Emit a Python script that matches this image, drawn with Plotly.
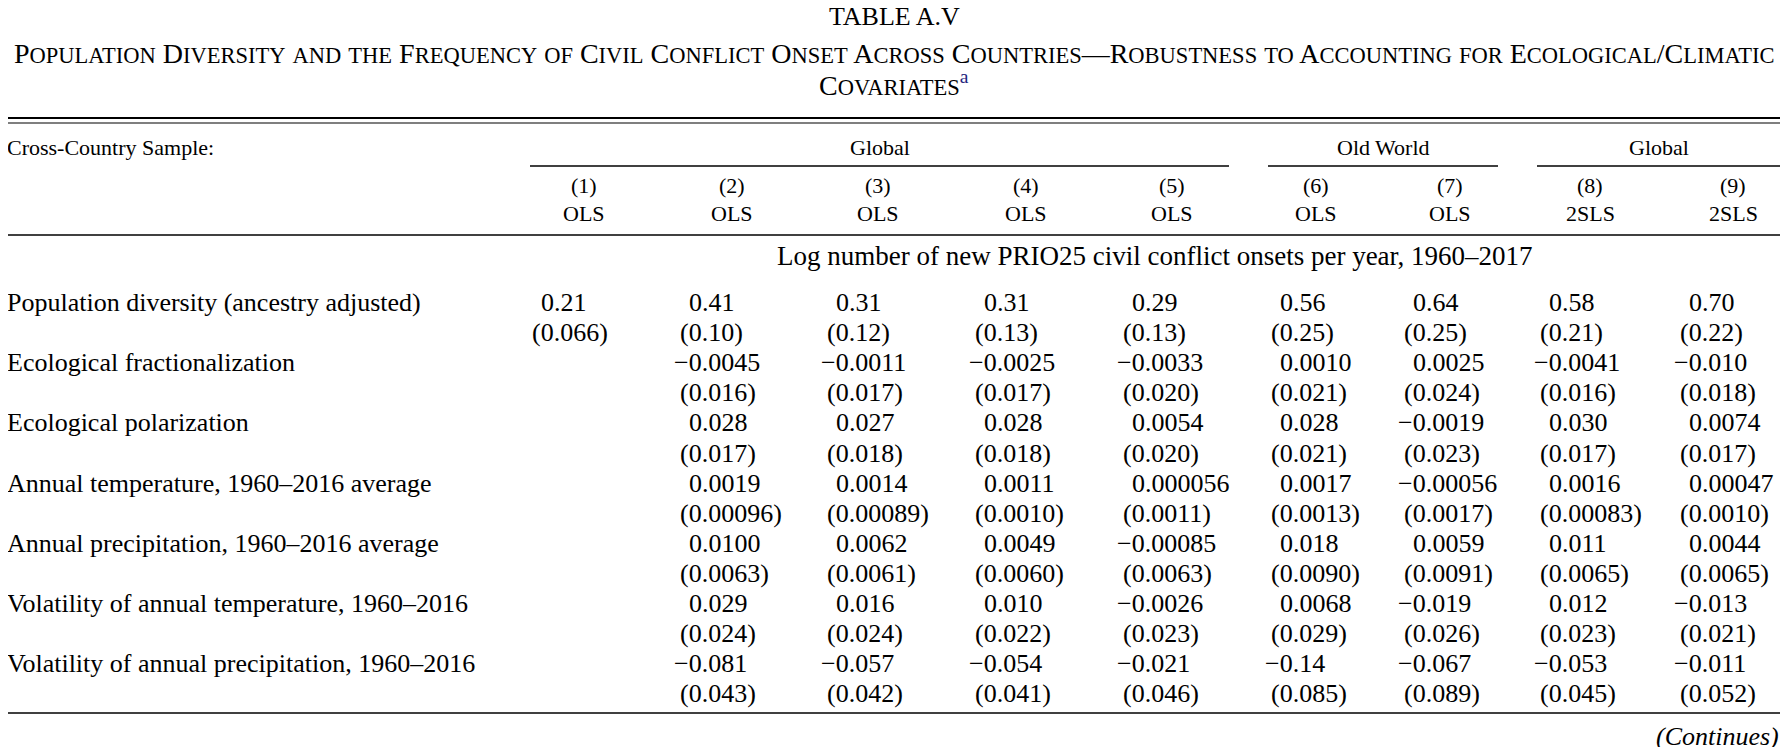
import plotly.graph_objects as go

# ---- table content -------------------------------------------------------
title = "TABLE A.V"
subtitle = ("Population Diversity and the Frequency of Civil Conflict Onset Across "
            "Countries\u2014Robustness to Accounting for Ecological/Climatic")
subtitle2 = "Covariates"
footnote_mark = "a"

sample_label = "Cross-Country Sample:"
samples = ["Global", "Old World", "Global"]
col_numbers = ["(1)", "(2)", "(3)", "(4)", "(5)", "(6)", "(7)", "(8)", "(9)"]
estimators = ["OLS", "OLS", "OLS", "OLS", "OLS", "OLS", "OLS", "2SLS", "2SLS"]
dep_var = "Log number of new PRIO25 civil conflict onsets per year, 1960\u20132017"

row_labels = [
    "Population diversity (ancestry adjusted)",
    "Ecological fractionalization",
    "Ecological polarization",
    "Annual temperature, 1960\u20132016 average",
    "Annual precipitation, 1960\u20132016 average",
    "Volatility of annual temperature, 1960\u20132016",
    "Volatility of annual precipitation, 1960\u20132016",
]

M = "\u2212"
coefs = [
    ["0.21", "0.41", "0.31", "0.31", "0.29", "0.56", "0.64", "0.58", "0.70"],
    ["", M + "0.0045", M + "0.0011", M + "0.0025", M + "0.0033", "0.0010", "0.0025", M + "0.0041", M + "0.010"],
    ["", "0.028", "0.027", "0.028", "0.0054", "0.028", M + "0.0019", "0.030", "0.0074"],
    ["", "0.0019", "0.0014", "0.0011", "0.000056", "0.0017", M + "0.00056", "0.0016", "0.00047"],
    ["", "0.0100", "0.0062", "0.0049", M + "0.00085", "0.018", "0.0059", "0.011", "0.0044"],
    ["", "0.029", "0.016", "0.010", M + "0.0026", "0.0068", M + "0.019", "0.012", M + "0.013"],
    ["", M + "0.081", M + "0.057", M + "0.054", M + "0.021", M + "0.14", M + "0.067", M + "0.053", M + "0.011"],
]
std_errs = [
    ["0.066", "0.10", "0.12", "0.13", "0.13", "0.25", "0.25", "0.21", "0.22"],
    ["", "0.016", "0.017", "0.017", "0.020", "0.021", "0.024", "0.016", "0.018"],
    ["", "0.017", "0.018", "0.018", "0.020", "0.021", "0.023", "0.017", "0.017"],
    ["", "0.00096", "0.00089", "0.0010", "0.0011", "0.0013", "0.0017", "0.00083", "0.0010"],
    ["", "0.0063", "0.0061", "0.0060", "0.0063", "0.0090", "0.0091", "0.0065", "0.0065"],
    ["", "0.024", "0.024", "0.022", "0.023", "0.029", "0.026", "0.023", "0.021"],
    ["", "0.043", "0.042", "0.041", "0.046", "0.085", "0.089", "0.045", "0.052"],
]
continues = "(Continues)"

# ---- layout constants (page pixels) --------------------------------------
FONT = "Liberation Serif"
W, H = 1772, 739          # body has an 8px margin
X0, X1 = 8, 1780
head_x = [584, 732, 878, 1026, 1172, 1316, 1450, 1590, 1733]
digit_x = [540, 688, 835, 983, 1131, 1279, 1412, 1548, 1688]
span_x = [(530, 1229), (1268, 1498), (1537, 1780)]
row_y0, row_dy = 302.5, 60.2
val_size, lab_size, head_size = 26, 26, 22
big_caps, small_caps = 28, 22.5

ann = []


def txt(x, y, s, size, anchor="center", **kw):
    ann.append(dict(x=x, y=y, xref="x", yref="y", text=s, showarrow=False,
                    xanchor=anchor, yanchor="middle", borderpad=0,
                    font=dict(family=FONT, size=size, color="black"), **kw))


def prefix_shift(s, size):
    # hang "(" and minus sign left of the first digit
    if s.startswith("("):
        return -0.333 * size
    if s.startswith(M):
        return -0.564 * size
    return 0


def smallcaps(s):
    out, run = [], ""
    for ch in s:
        if ch.islower():
            run += ch.upper()
        else:
            if run:
                out.append("<span style='font-size:%spx'>%s</span>" % (small_caps, run))
                run = ""
            out.append(ch)
    if run:
        out.append("<span style='font-size:%spx'>%s</span>" % (small_caps, run))
    return "".join(out)


# titles
txt(894, 16, title, 26)
txt(894, 53, smallcaps(subtitle), big_caps)
txt(894, 83, smallcaps(subtitle2) + "<sup><span style='color:#1f2580'>"
    + footnote_mark + "</span></sup>", big_caps)

# header
txt(X0, 147, sample_label, head_size, anchor="left", xshift=-2)
for (a, b), s in zip(span_x, samples):
    txt((a + b) / 2, 147, s, head_size)
for x, n, e in zip(head_x, col_numbers, estimators):
    txt(x, 185, n, head_size)
    txt(x, 213, e, head_size)
txt(1155, 256, dep_var, 27)

# body
for i, lab in enumerate(row_labels):
    y = row_y0 + i * row_dy
    txt(X0, y, lab, lab_size, anchor="left", xshift=-2)
    for j in range(len(col_numbers)):
        c = coefs[i][j]
        if c:
            txt(digit_x[j], y, c, val_size, anchor="left", xshift=prefix_shift(c, val_size))
        s = std_errs[i][j]
        if s:
            s = "(" + s + ")"
            txt(digit_x[j], y + row_dy / 2, s, val_size, anchor="left",
                xshift=prefix_shift(s, val_size))

txt(X1, 736, "<i>" + continues + "</i>", 26, anchor="right")

# rules
shapes = []


def rule(x0, x1, y, w=1.3):
    shapes.append(dict(type="line", xref="x", yref="y", x0=x0, x1=x1, y0=y, y1=y,
                       line=dict(color="black", width=w)))


rule(X0, X1, 118, 2)
rule(X0, X1, 123, 1.2)
for a, b in span_x:
    rule(a, b, 166)
rule(X0, X1, 235)
rule(X0, X1, 713)

fig = go.Figure()
fig.update_layout(
    width=W, height=H, margin=dict(l=0, r=0, t=0, b=0),
    paper_bgcolor="white", plot_bgcolor="white",
    xaxis=dict(range=[X0, X1], visible=False, fixedrange=True),
    yaxis=dict(range=[H + 8, 8], visible=False, fixedrange=True),
    annotations=ann, shapes=shapes, showlegend=False,
)
fig.write_html("out.html")
